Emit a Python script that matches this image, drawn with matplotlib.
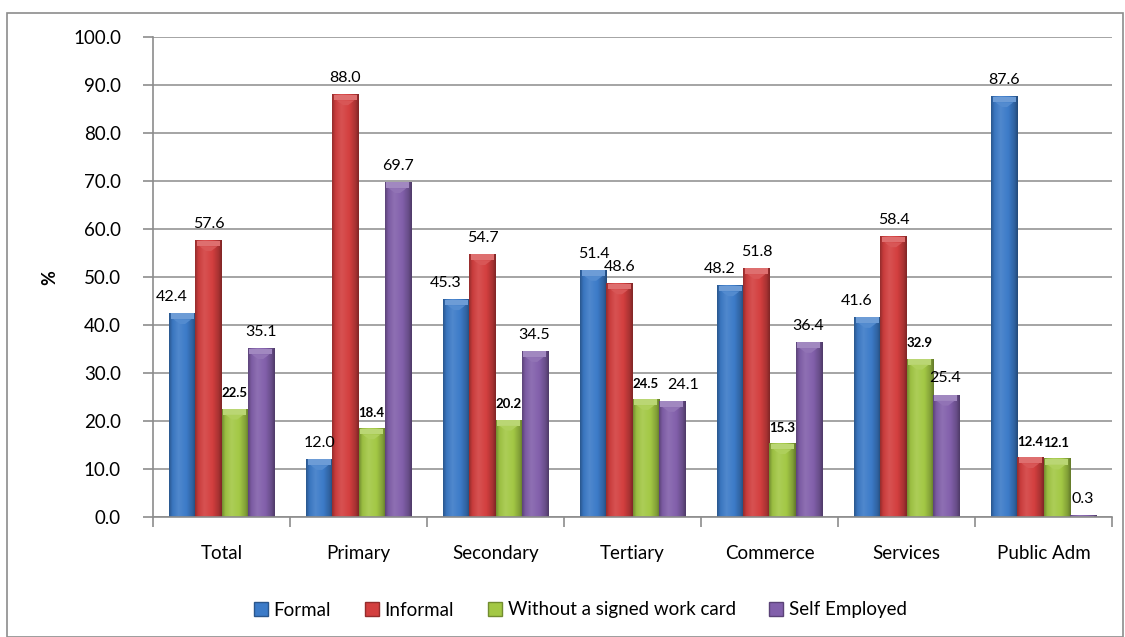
import numpy as np
import matplotlib
matplotlib.use("Agg")
import matplotlib.pyplot as plt
from matplotlib.colors import LinearSegmentedColormap, to_rgb
from matplotlib.patches import Patch, Rectangle, Polygon

categories = ["Total", "Primary", "Secondary", "Tertiary", "Commerce", "Services", "Public Adm"]
series_names = ["Formal", "Informal", "Without a signed work card", "Self Employed"]
formal = [42.4, 12.0, 45.3, 51.4, 48.2, 41.6, 87.6]
informal = [57.6, 88.0, 54.7, 48.6, 51.8, 58.4, 12.4]
no_card = [22.5, 18.4, 20.2, 24.5, 15.3, 32.9, 12.1]
self_emp = [35.1, 69.7, 34.5, 24.1, 36.4, 25.4, 0.3]
yticks = np.arange(0, 101, 10)

plt.rcParams["font.family"] = ["Lato", "DejaVu Sans"]

colors = ["#3c7bc8", "#d33f3f", "#a3c845", "#8260ab"]

fig = plt.figure(figsize=(11.25, 6.37), dpi=100)
ax = fig.add_axes([153 / 1125, 1 - 517 / 637, 959 / 1125, 480 / 637])

# outer chart border
fig.patches.append(Rectangle((7 / 1125, 0.5 / 637), 1116 / 1125, 624 / 637,
                             transform=fig.transFigure, fill=False,
                             edgecolor="#8c8c8c", linewidth=1.2))

x = np.arange(len(categories))
w = 0.19
data = [formal, informal, no_card, self_emp]


def shade(c, f):
    r = np.array(to_rgb(c))
    if f < 1:
        return tuple(r * f)
    return tuple(r + (1 - r) * (f - 1))


grad = np.linspace(0, 1, 64).reshape(1, -1)
for i, (vals, c) in enumerate(zip(data, colors)):
    cmap = LinearSegmentedColormap.from_list(
        "g%d" % i,
        [(0, shade(c, 0.7)), (0.12, shade(c, 0.95)), (0.35, shade(c, 1.1)),
         (0.65, shade(c, 1.0)), (0.88, shade(c, 0.8)), (1, shade(c, 0.6))])
    bars = ax.bar(x + (i - 1.5) * w, vals, w, color=c, zorder=2, linewidth=0)
    for b in bars:
        x0, h = b.get_x(), b.get_height()
        ax.imshow(grad, extent=[x0, x0 + w, 0, h], aspect="auto", cmap=cmap,
                  zorder=3, interpolation="bicubic")
        # lighter cap at the top of the cylinder
        cap = min(h, 1.2)
        ax.add_patch(Rectangle((x0 + 0.01, h - cap), w - 0.02, cap,
                               facecolor=shade(c, 1.25), linewidth=0, zorder=4))
        if h > 2:
            ax.add_patch(Polygon([(x0 + 0.03, h - cap), (x0 + w - 0.03, h - cap),
                                  (x0 + w * 0.6, h - 2.2), (x0 + w * 0.4, h - 2.2)],
                                 closed=True, facecolor=shade(c, 1.12),
                                 linewidth=0, zorder=4))

# value labels (a few were nudged sideways in the original)
label_dx = {(0, 0): -8, (0, 2): -8, (0, 4): -8, (0, 5): -8, (3, 3): 8}
for i, vals in enumerate(data):
    for j, v in enumerate(vals):
        xc = x[j] + (i - 1.5) * w
        dx = label_dx.get((i, j), 0)
        bold = i == 2 or (i == 1 and j == 6)
        ax.annotate("%.1f" % v, (xc, v), xytext=(dx, 7), textcoords="offset points",
                    ha="center", va="bottom",
                    fontsize=9.5 if bold else 11.5,
                    fontweight="bold" if bold else "normal", zorder=5)

ax.set_xlim(-0.5, len(categories) - 0.5)
ax.set_ylim(0, 100)
ax.set_yticks(yticks)
ax.set_yticklabels(["%.1f" % t for t in yticks], fontsize=13.5)
ax.set_xticks(np.arange(len(categories) + 1) - 0.5)
ax.set_xticklabels([])
ax.set_xticks(x, minor=True)
ax.set_xticklabels(categories, minor=True, fontsize=13.5)
ax.tick_params(axis="x", which="minor", length=0, pad=20)
ax.tick_params(axis="x", which="major", length=7, color="#8c8c8c", width=1.2)
ax.tick_params(axis="y", length=7, color="#8c8c8c", width=1.2, pad=16)
ax.grid(axis="y", color="#8c8c8c", linewidth=1.1, zorder=0)
ax.set_axisbelow(True)
for s in ["top", "right"]:
    ax.spines[s].set_visible(False)
for s in ["left", "bottom"]:
    ax.spines[s].set_color("#8c8c8c")
    ax.spines[s].set_linewidth(1.2)
ax.spines["bottom"].set_zorder(6)

fig.text(50 / 1125, 1 - 278 / 637, "%", rotation=90, fontsize=13, fontweight="bold",
         ha="center", va="center")

handles = [Patch(facecolor=c, edgecolor=shade(c, 0.7)) for c in colors]
fig.legend(handles, series_names, loc="center", bbox_to_anchor=(0.516, 1 - 610 / 637),
           ncol=4, frameon=False, fontsize=13.5, handlelength=0.75, handleheight=0.75,
           handletextpad=0.3, columnspacing=1.8)

fig.savefig("out.png", dpi=100)
